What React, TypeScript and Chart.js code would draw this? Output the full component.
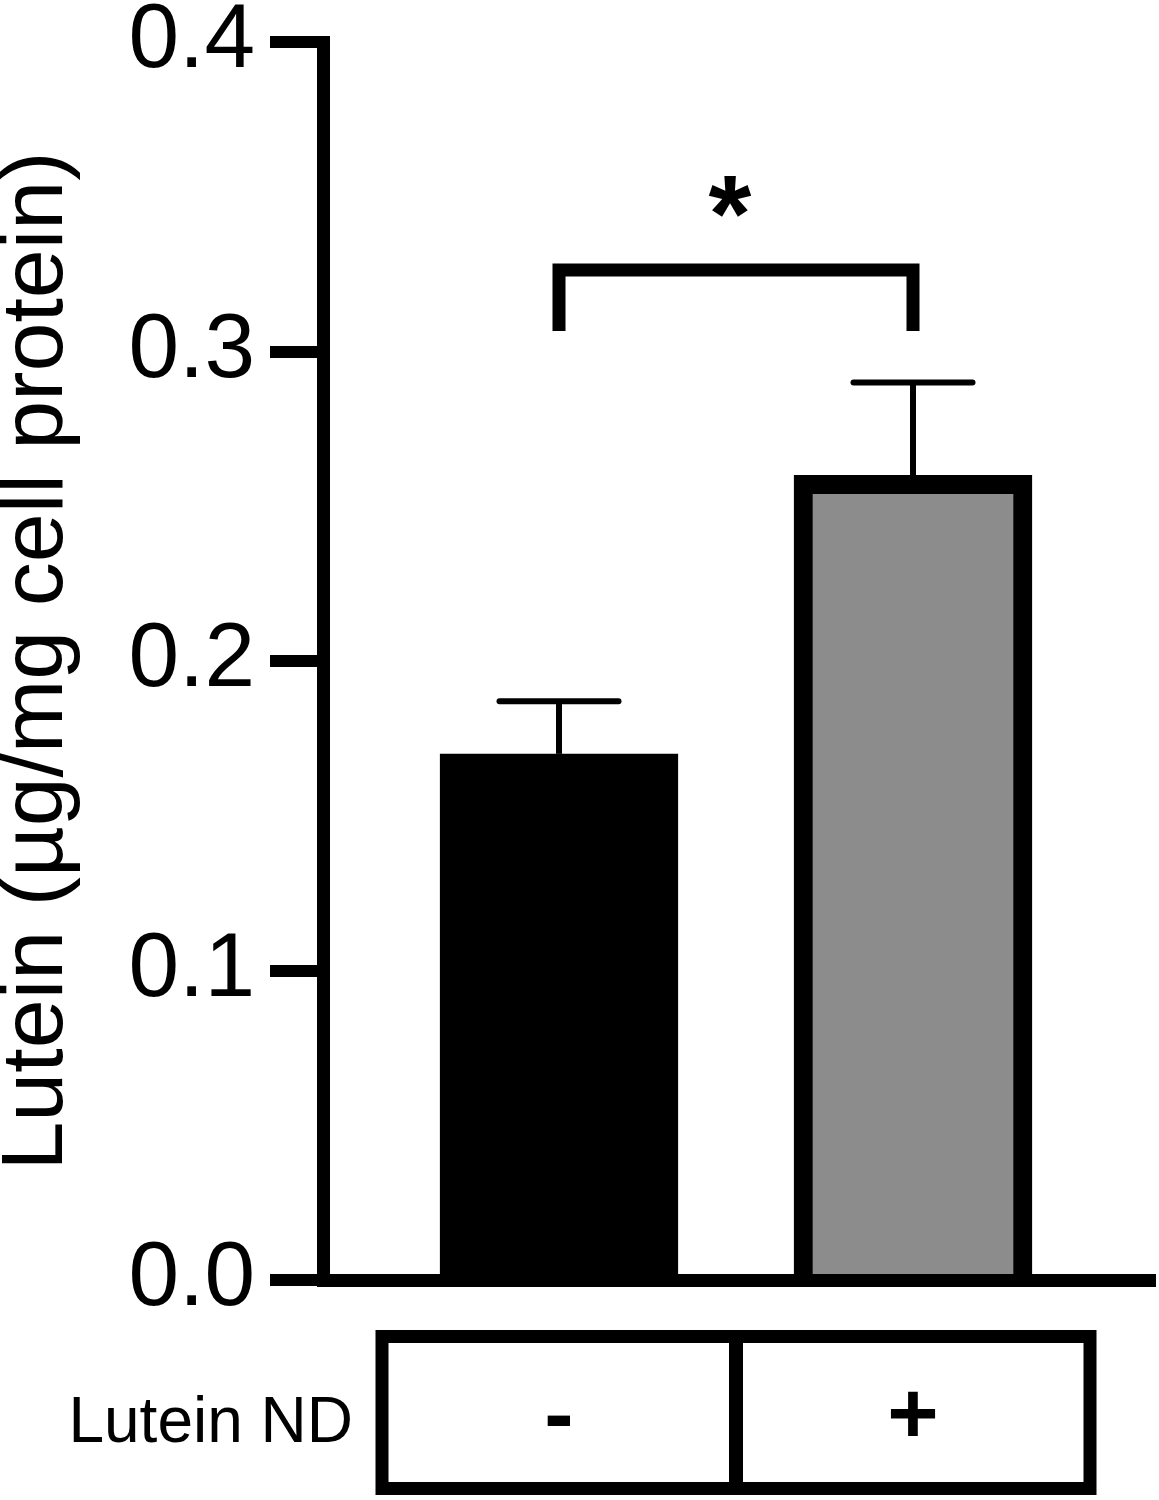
import React, { useEffect, useRef } from 'react';
import { Chart, registerables } from 'chart.js';

Chart.register(...registerables);

// ---- data ----
const categories = ['-', '+'];
const rowLabel = 'Lutein ND';
const means = [0.17, 0.26];
const errors = [0.017, 0.03];
const yTicks = [0, 0.1, 0.2, 0.3, 0.4];
const yTitle = 'Lutein (µg/mg cell protein)';
const sigPairs = [[0, 1]];
const sigMarks = ['*'];
const barColors = ['#000000', '#8c8c8c'];

const FONT = '"Liberation Sans", Arial, Helvetica, sans-serif';

const overlayPlugin = {
  id: 'overlay',
  afterDatasetsDraw(chart: any) {
    const ctx = chart.ctx;
    const y = chart.scales.y;
    const meta = chart.getDatasetMeta(0);
    ctx.save();
    ctx.strokeStyle = '#000';
    meta.data.forEach((bar: any, i: number) => {
      const x = bar.x;
      const top = y.getPixelForValue(means[i] + errors[i]);
      const half = bar.width / 4;
      ctx.lineWidth = 6;
      ctx.lineCap = 'butt';
      ctx.beginPath();
      ctx.moveTo(x, bar.y);
      ctx.lineTo(x, top);
      ctx.stroke();
      ctx.lineCap = 'round';
      ctx.beginPath();
      ctx.moveTo(x - half, top);
      ctx.lineTo(x + half, top);
      ctx.stroke();
    });
    ctx.restore();
  },
  afterDraw(chart: any) {
    const ctx = chart.ctx;
    const xs = chart.scales.x;
    const y = chart.scales.y;
    ctx.save();
    ctx.strokeStyle = '#000';
    ctx.fillStyle = '#000';

    // significance brackets
    sigPairs.forEach((pair, k) => {
      const x1 = xs.getPixelForValue(pair[0] + 1);
      const x2 = xs.getPixelForValue(pair[1] + 1);
      const yBar = y.getPixelForValue(0.3263);
      const yLeg = y.getPixelForValue(0.3066);
      ctx.lineWidth = 13;
      ctx.lineJoin = 'miter';
      ctx.lineCap = 'butt';
      ctx.beginPath();
      ctx.moveTo(x1, yLeg);
      ctx.lineTo(x1, yBar);
      ctx.lineTo(x2, yBar);
      ctx.lineTo(x2, yLeg);
      ctx.stroke();
      ctx.font = 'bold 110px ' + FONT;
      ctx.textAlign = 'center';
      ctx.textBaseline = 'alphabetic';
      const m = ctx.measureText(sigMarks[k]);
      const cy = y.getPixelForValue(0.35);
      const base = cy + (m.actualBoundingBoxAscent - m.actualBoundingBoxDescent) / 2;
      ctx.fillText(sigMarks[k], (x1 + x2) / 2 - 6, base);
    });

    // condition table
    const top = 1336.5;
    const bottom = 1488.5;
    const left = xs.getPixelForValue(0.5);
    const right = xs.getPixelForValue(categories.length + 0.5);
    ctx.lineWidth = 13;
    ctx.lineJoin = 'miter';
    ctx.strokeRect(left, top, right - left, bottom - top);
    for (let i = 1; i < categories.length; i++) {
      const xb = xs.getPixelForValue(i + 0.5);
      ctx.lineWidth = 14;
      ctx.beginPath();
      ctx.moveTo(xb, top);
      ctx.lineTo(xb, bottom);
      ctx.stroke();
    }
    ctx.textBaseline = 'alphabetic';
    ctx.textAlign = 'right';
    ctx.font = '64px ' + FONT;
    ctx.fillText(rowLabel, left - 29, 1442);
    ctx.textAlign = 'center';
    ctx.font = 'bold 88px ' + FONT;
    categories.forEach((c, i) => {
      ctx.fillText(c, xs.getPixelForValue(i + 1), 1443);
    });
    ctx.restore();
  },
};

export default function App() {
  const ref = useRef<HTMLCanvasElement>(null);
  useEffect(() => {
    document.body.style.margin = '0';
    const canvas = ref.current;
    if (!canvas) return;
    const chart = new Chart(canvas, {
      type: 'bar',
      data: {
        datasets: [
          {
            data: means.map((v, i) => ({ x: i + 1, y: v })),
            backgroundColor: barColors,
            borderColor: '#000',
            borderWidth: 19,
            barThickness: 238,
          },
        ],
      },
      options: {
        animation: false,
        responsive: false,
        maintainAspectRatio: false,
        devicePixelRatio: 1,
        layout: { padding: { left: 0, right: 4, top: 42, bottom: 220 } },
        plugins: {
          legend: { display: false },
          tooltip: { enabled: false },
          title: { display: false },
        },
        scales: {
          x: {
            type: 'linear',
            offset: false,
            bounds: 'data',
            grace: 0,
            min: 1 / 3,
            max: 2.6836,
            ticks: { display: false, includeBounds: false, stepSize: 1 },
            grid: { display: false, drawTicks: false, offset: false },
            border: { display: true, width: 13, color: '#000' },
            afterFit: (s: any) => {
              s.height = 0;
              s.paddingLeft = 0;
              s.paddingRight = 0;
            },
          },
          y: {
            min: 0,
            max: 0.4,
            afterBuildTicks: (s: any) => {
              s.ticks = yTicks.map((v) => ({ value: v }));
            },
            ticks: {
              color: '#000',
              font: { family: FONT, size: 91, lineHeight: 1 },
              padding: 15,
              callback: (v: any) => Number(v).toFixed(1),
            },
            grid: {
              display: true,
              drawOnChartArea: false,
              drawTicks: true,
              tickLength: 53,
              tickWidth: 12,
              tickColor: '#000',
              color: '#000',
              lineWidth: 12,
            },
            border: { display: true, width: 13, color: '#000' },
            title: {
              display: true,
              text: yTitle,
              color: '#000',
              font: { family: FONT, size: 88, lineHeight: 0.85 },
              padding: 0,
            },
            afterFit: (s: any) => {
              s.width = 323;
              s.paddingTop = 0;
              s.paddingBottom = 0;
            },
          },
        },
      } as any,
      plugins: [overlayPlugin],
    });
    return () => chart.destroy();
  }, []);
  return (
    <div style={{ position: 'relative', width: 1159, height: 1500 }}>
      <canvas ref={ref} width={1159} height={1500} style={{ display: 'block' }} />
    </div>
  );
}
